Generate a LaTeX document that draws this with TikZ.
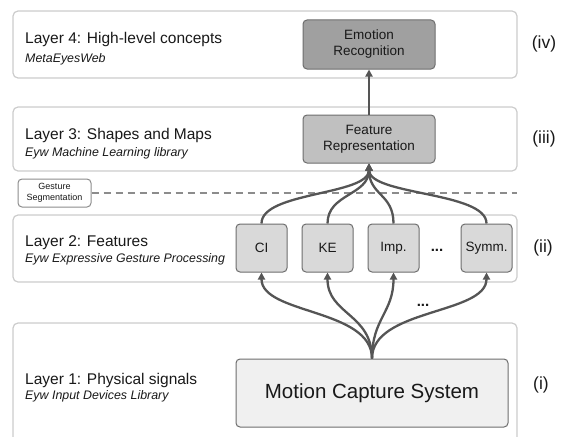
\documentclass[tikz,border=0pt]{standalone}
\usepackage{fontspec}
\setmainfont{Liberation Sans}
\usetikzlibrary{
  arrows.meta,
  positioning
}
\definecolor{layerline}{RGB}{204, 204, 204}
\definecolor{boxline}{RGB}{110, 110, 110}
\definecolor{flowcolor}{RGB}{85, 85, 85}
\definecolor{segline}{RGB}{140, 140, 140}
\definecolor{emotionfill}{RGB}{160, 160, 160}
\definecolor{reprfill}{RGB}{192, 192, 192}
\definecolor{featfill}{RGB}{217, 217, 217}
\definecolor{mocapfill}{RGB}{240, 240, 240}
\definecolor{labeltext}{RGB}{25, 25, 25}
\tikzset{
layerbox/.style={
  draw=layerline,
  line width=1.2pt,
  rounded corners=5pt,
  fill=white,
  minimum width=504pt
},
layertitle/.style={
  anchor=base west,
  inner sep=0pt,
  font=\fontsize{15.5}{18}\selectfont,
  text=labeltext
},
layersub/.style={
  anchor=base west,
  inner sep=0pt,
  font=\fontsize{12.4}{14}\selectfont\itshape,
  text=labeltext
},
stagebox/.style={
  draw=boxline,
  line width=1pt,
  rounded corners=4pt,
  align=center,
  inner sep=0pt,
  font=\fontsize{13.5}{16}\selectfont,
  text=labeltext
},
featbox/.style={
  stagebox,
  fill=featfill,
  minimum width=51pt,
  minimum height=48pt
},
dotlabel/.style={
  font=\bfseries\fontsize{15}{18}\selectfont,
  text=labeltext
},
romanlabel/.style={
  font=\fontsize{17.5}{20}\selectfont,
  text=labeltext
},
flow/.style={
  -{Triangle[length=7pt,width=7pt]},
  line width=2.3pt,
  draw=flowcolor
}
}

\begin{document}
\begin{tikzpicture}[x=1pt, y=1pt]
    \clip (0,0) rectangle (561,-436);

    % Layers
    \node[layerbox, minimum height=67pt] (layer4) at (265,-44.5) {};
    \node[layerbox, minimum height=64pt] (layer3) at (265,-139) {};
    \node[layerbox, minimum height=67pt] (layer2) at (265,-248.5) {};
    \node[layerbox, minimum height=127pt] (layer1) at (265,-386.5) {};

    % Layer names
    \node[layertitle] (l4title) at (25,-44) {Layer 4: High-level concepts};
    \node[layersub] (l4sub) at (25,-62) {MetaEyesWeb};
    \node[layertitle] (l3title) at (25,-139) {Layer 3: Shapes and Maps};
    \node[layersub] (l3sub) at (25,-156) {Eyw Machine Learning library};
    \node[layertitle] (l2title) at (25,-246) {Layer 2: Features};
    \node[layersub] (l2sub) at (25,-262) {Eyw Expressive Gesture Processing};
    \node[layertitle] (l1title) at (25,-384) {Layer 1: Physical signals};
    \node[layersub] (l1sub) at (25,-399) {Eyw Input Devices Library};

    % Stages
    \node[stagebox, fill=emotionfill, minimum width=132pt, minimum height=49pt] (emotion) at (369,-44.5) {Emotion\\Recognition};
    \node[stagebox, fill=reprfill, minimum width=132pt, minimum height=48pt] (repr) at (369,-139) {Feature\\Representation};
    \node[featbox] (ci) at (261.5,-248) {CI};
    \node[featbox, right=14pt of ci] (ke) {KE};
    \node[featbox, right=14pt of ke] (imp) {Imp.};
    \node[featbox, right=41pt of imp] (symm) {Symm.};
    \node[dotlabel] (featdots) at (437,-250) {...};
    \node[stagebox, fill=mocapfill, minimum width=272pt, minimum height=68pt, font=\fontsize{20.5}{24}\selectfont] (mocap) at (372,-393) {Motion Capture System};
    \node[dotlabel] (mocapdots) at (423,-305) {...};

    % Gesture segmentation
    \node[stagebox, draw=segline, fill=white, minimum width=73pt, minimum height=28pt, font=\fontsize{9}{10.5}\selectfont] (segment) at (54.5,-193) {Gesture\\Segmentation};
    \coordinate (segend) at (517,-193);
    \draw[draw=segline, line width=1.2pt, dash pattern=on 7pt off 5pt] (segment.east) -- (segend);

    % Level labels
    \node[romanlabel] (lab4) at (544,-44) {(iv)};
    \node[romanlabel] (lab3) at (544,-139) {(iii)};
    \node[romanlabel] (lab2) at (543,-248) {(ii)};
    \node[romanlabel] (lab1) at (541,-385) {(i)};

    % Arrows mocap -> features
    \draw[flow] (mocap.north) .. controls +(0,50) and +(0,-42) .. (ci.south);
    \draw[flow] (mocap.north) .. controls +(0,45) and +(0,-42) .. (ke.south);
    \draw[flow] (mocap.north) .. controls +(0,40) and +(0,-40) .. (imp.south);
    \draw[flow] (mocap.north) .. controls +(0,50) and +(0,-42) .. (symm.south);

    % Arrows features -> representation
    \draw[flow] (ci.north) .. controls +(0,32) and +(0,-32) .. (repr.south);
    \draw[flow] (ke.north) .. controls +(0,30) and +(0,-32) .. (repr.south);
    \draw[flow] (imp.north) .. controls +(0,30) and +(0,-32) .. (repr.south);
    \draw[flow] (symm.north) .. controls +(0,32) and +(0,-32) .. (repr.south);

    % Representation -> emotion
    \draw[flow] (repr.north) -- (emotion.south);

  \end{tikzpicture}
\end{document}
